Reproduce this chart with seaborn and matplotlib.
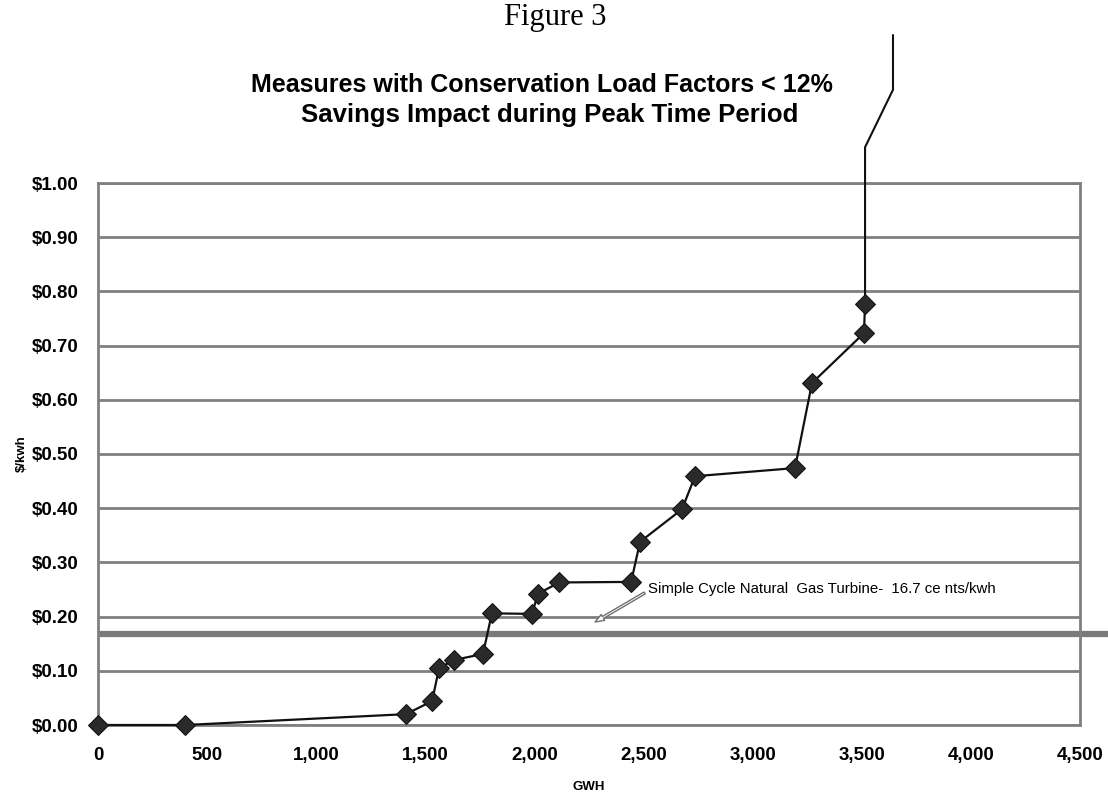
import matplotlib
matplotlib.use("Agg")
import matplotlib.pyplot as plt
import seaborn as sns
import pandas as pd

# Data
gwh = [0, 400, 1411, 1531, 1563, 1632, 1764, 1805, 1989, 2016, 2113, 2443, 2484, 2676, 2736, 3194, 3272, 3510, 3515]
cost = [0.000, 0.000, 0.020, 0.044, 0.105, 0.120, 0.131, 0.206, 0.205, 0.242, 0.263, 0.264, 0.338, 0.398, 0.459, 0.474, 0.631, 0.723, 0.777]
# continuation of the curve above $1.00 (no markers, beyond plot area)
tail_gwh = [3515, 3515, 3643, 3643]
tail_cost = [0.777, 1.066, 1.172, 1.273]
turbine_cost = 0.167
x_ticks = [0, 500, 1000, 1500, 2000, 2500, 3000, 3500, 4000, 4500]
y_ticks = [0.0, 0.1, 0.2, 0.3, 0.4, 0.5, 0.6, 0.7, 0.8, 0.9, 1.0]

df = pd.DataFrame({"GWH": gwh, "cost": cost})
tail = pd.DataFrame({"GWH": tail_gwh, "cost": tail_cost})

sns.set_style("white")
plt.rcParams['font.family'] = ['Liberation Sans', 'DejaVu Sans']
plt.rcParams['text.color'] = 'black'
plt.rcParams['axes.labelcolor'] = 'black'

fig = plt.figure(figsize=(11.08, 7.95), dpi=100)
ax = fig.add_axes([98/1108, 1 - 725/795, (1080-98)/1108, (725-183)/795])

grey = "#808080"
for yv in y_ticks:
    ax.axhline(yv, color=grey, lw=2.0, zorder=1)

# turbine reference line, extends beyond the right border
ax.plot([0, 4640], [turbine_cost, turbine_cost], color="#7a7a7a", lw=4.5,
        clip_on=False, zorder=2, solid_capstyle="butt")

sns.lineplot(data=tail, x="GWH", y="cost", ax=ax, color="#111111", lw=1.5,
             sort=False, estimator=None, errorbar=None, clip_on=False, zorder=3)
sns.lineplot(data=df, x="GWH", y="cost", ax=ax, color="#111111", lw=1.6,
             sort=False, estimator=None, errorbar=None,
             marker="D", markersize=10.5, markerfacecolor="#2a2a2a",
             markeredgecolor="#111111", clip_on=False, zorder=4)

ax.set_xlim(0, 4500)
ax.set_ylim(0, 1.0)
ax.set_xticks(x_ticks)
ax.set_xticklabels([f"{v:,}" for v in x_ticks])
ax.set_yticks(y_ticks)
ax.set_yticklabels([f"${v:.2f}" for v in y_ticks])
ax.tick_params(axis="both", labelsize=13.5, colors=grey, labelcolor="black",
               length=5, width=1.5, direction="out")
ax.tick_params(axis="x", pad=11)
ax.tick_params(axis="y", pad=9)
for lbl in ax.get_xticklabels() + ax.get_yticklabels():
    lbl.set_fontweight("bold")
for s in ax.spines.values():
    s.set_visible(True)
    s.set_color(grey)
    s.set_linewidth(2)

ax.set_xlabel("GWH", fontsize=9.5, fontweight="bold", labelpad=12)
ax.set_ylabel("$/kwh", fontsize=9.5, fontweight="bold", labelpad=3)

ax.annotate("Simple Cycle Natural  Gas Turbine-  16.7 ce nts/kwh",
            xy=(2278, 0.19), xytext=(2520, 0.251),
            fontsize=10.8, va="center", ha="left", color="black",
            arrowprops=dict(arrowstyle="simple,head_width=0.45,head_length=0.6,tail_width=0.15",
                            fc="white", ec="#707070", lw=1, shrinkA=0, shrinkB=0,
                            relpos=(0, 0.35)))

fig.text(555/1108, 1 - 18/795, "Figure 3", ha="center", va="center",
         fontsize=22, family="Liberation Serif", color="black")
fig.text(542/1108, 1 - 85/795, "Measures with Conservation Load Factors < 12%",
         ha="center", va="center", fontsize=18, fontweight="bold", color="black")
fig.text(550/1108, 1 - 115/795, "Savings Impact during Peak Time Period",
         ha="center", va="center", fontsize=18.5, fontweight="bold", color="black")

fig.savefig("out.png", dpi=100)
